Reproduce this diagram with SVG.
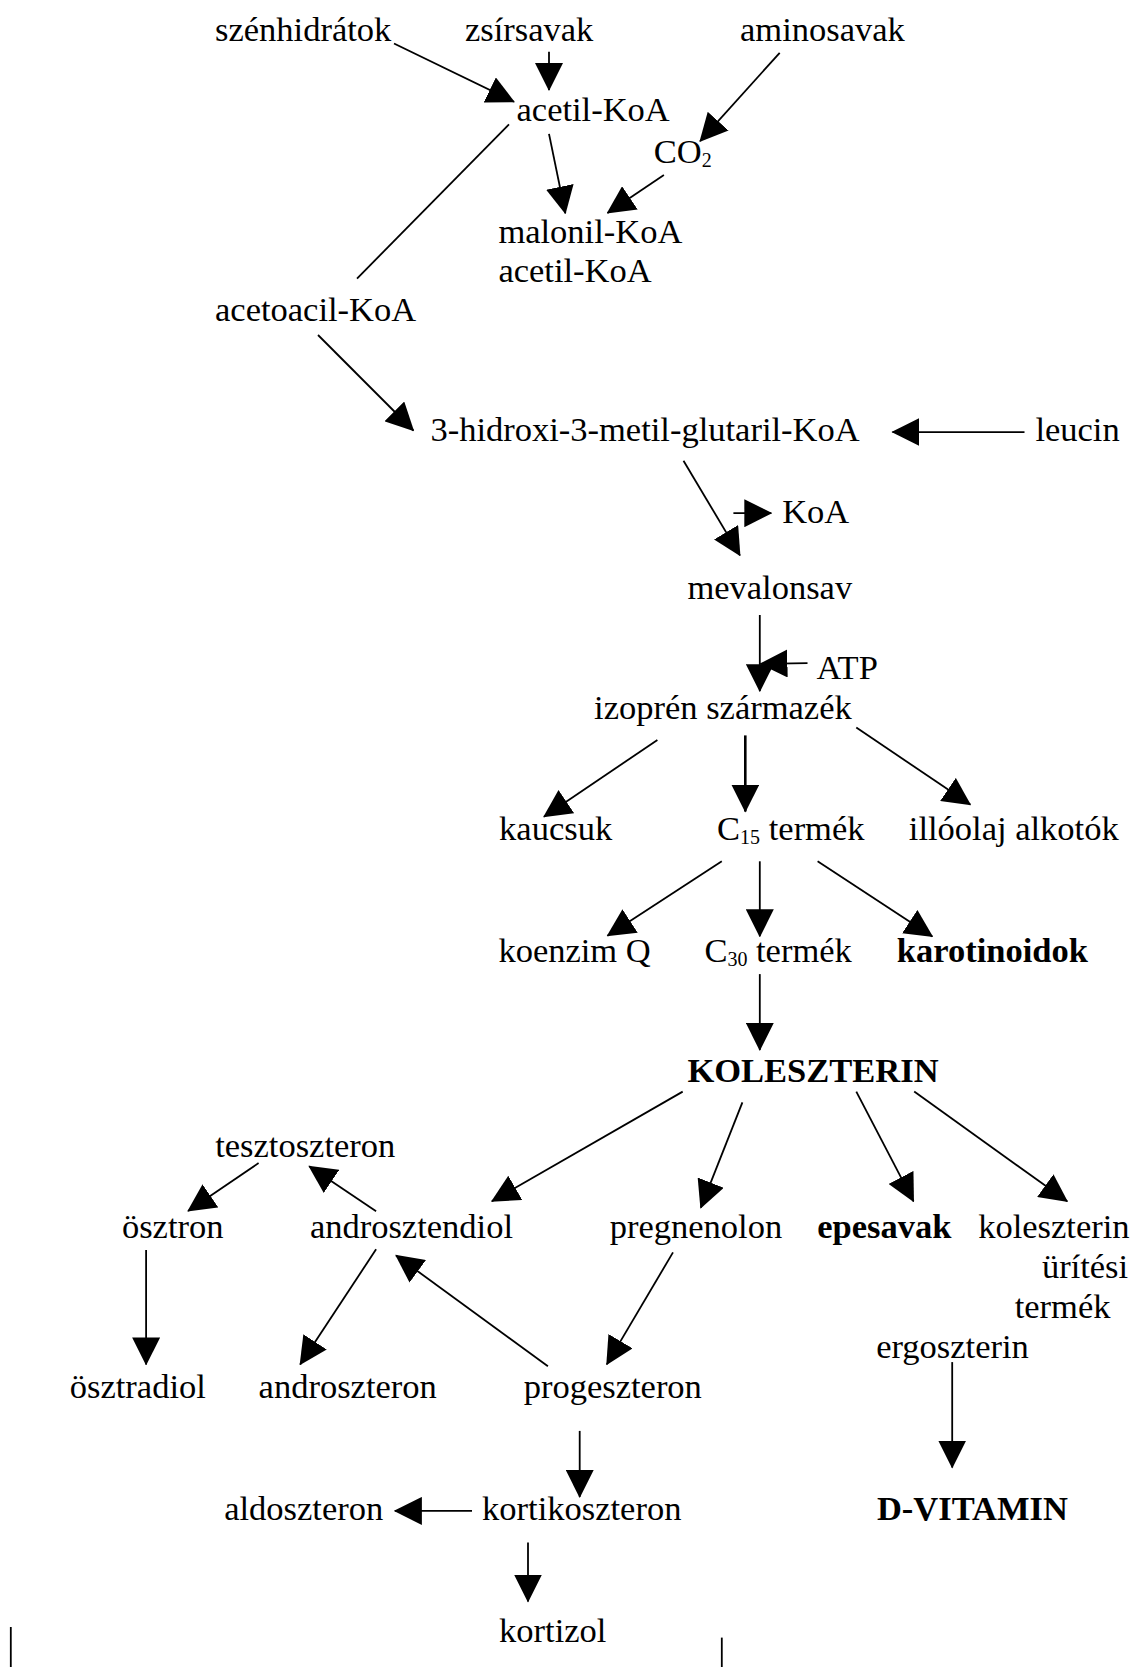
<svg xmlns="http://www.w3.org/2000/svg" width="1134" height="1667" viewBox="0 0 1134 1667">
<defs>
<style>
text{font-family:"Liberation Serif","Times New Roman",serif;font-size:34.5px;fill:#000}
.b{font-weight:bold}
.sub{font-size:20px}
.c line{stroke:#000;stroke-width:1.8}
.c line.a{marker-end:url(#ah)}
.c line.t{stroke-width:2.6}
</style>
<marker id="ah" markerUnits="userSpaceOnUse" markerWidth="28" markerHeight="28" viewBox="0 0 27 27" refX="26" refY="13.5" orient="auto">
<path d="M0,0 L27,13.5 L0,27 z" fill="#000"/>
</marker>
</defs>
<rect width="1134" height="1667" fill="#fff"/>
<g class="c" id="connectors">
<line class="a" x1="394" y1="43.5" x2="514" y2="101.8"/>
<line class="a" x1="549" y1="51.7" x2="549" y2="90"/>
<line class="a" x1="779.7" y1="52.8" x2="700.1" y2="141.2"/>
<line class="a" x1="549" y1="133.9" x2="565.3" y2="213.3"/>
<line class="a" x1="663.9" y1="175" x2="607.5" y2="212.9"/>
<line x1="509" y1="124.3" x2="357" y2="278.6"/>
<line class="a" x1="318" y1="335" x2="413.4" y2="430.5"/>
<line class="a" x1="1024.5" y1="432.1" x2="892.5" y2="432.1"/>
<line class="a" x1="683.5" y1="460.7" x2="739.9" y2="555.4"/>
<line class="a" x1="733.4" y1="513.2" x2="771.3" y2="513.2"/>
<line class="a" x1="759.8" y1="615" x2="759.8" y2="691.1"/>
<line class="a" x1="807.5" y1="663.1" x2="760.5" y2="663.8"/>
<line class="a" x1="657.4" y1="740" x2="544" y2="816.7"/>
<line class="a t" x1="745.3" y1="735.4" x2="745.3" y2="811.5"/>
<line class="a" x1="856.3" y1="727.5" x2="970.3" y2="804.6"/>
<line class="a" x1="721.8" y1="861.3" x2="607.5" y2="935.7"/>
<line class="a" x1="759.8" y1="861.3" x2="759.8" y2="936.3"/>
<line class="a" x1="817.6" y1="861.3" x2="932.3" y2="936.4"/>
<line class="a" x1="759.8" y1="974.1" x2="759.8" y2="1049.9"/>
<line class="a" x1="682.7" y1="1091.6" x2="491.9" y2="1201.3"/>
<line class="a" x1="742.4" y1="1102.4" x2="700.8" y2="1207.7"/>
<line class="a" x1="856.3" y1="1091.6" x2="913.5" y2="1201.3"/>
<line class="a" x1="914.2" y1="1091.6" x2="1067.2" y2="1201.3"/>
<line class="a" x1="258.6" y1="1163.1" x2="188.1" y2="1211"/>
<line class="a" x1="376.1" y1="1211.3" x2="309.2" y2="1166.3"/>
<line class="a" x1="146.1" y1="1250.1" x2="146.1" y2="1364.4"/>
<line class="a" x1="376.1" y1="1249.3" x2="300.2" y2="1364.4"/>
<line class="a" x1="547.9" y1="1366.2" x2="396" y2="1255.4"/>
<line class="a" x1="673" y1="1252.4" x2="606.8" y2="1364.4"/>
<line class="a" x1="952.2" y1="1362.1" x2="952.2" y2="1467.5"/>
<line class="a" x1="579.7" y1="1430.9" x2="579.7" y2="1496.9"/>
<line class="a" x1="472" y1="1510.9" x2="394.9" y2="1510.9"/>
<line class="a" x1="528" y1="1542.6" x2="528" y2="1601.5"/>
<line x1="10.8" y1="1627" x2="10.8" y2="1667"/>
<line x1="721.8" y1="1637.6" x2="721.8" y2="1667"/>
</g>
<g id="n-szenhidratok"><text x="215" y="41.1">szénhidrátok</text></g>
<g id="n-zsirsavak"><text x="465" y="41.1">zsírsavak</text></g>
<g id="n-aminosavak"><text x="740" y="41.1">aminosavak</text></g>
<g id="n-acetilkoa"><text x="516.5" y="120.5">acetil-KoA</text></g>
<g id="n-co2"><text x="653.8" y="162.5">CO<tspan class="sub" dy="4">2</tspan></text></g>
<g id="n-malonil"><text x="498.4" y="242.9">malonil-KoA</text><text x="498.4" y="282.1">acetil-KoA</text></g>
<g id="n-acetoacil"><text x="215" y="321.4">acetoacil-KoA</text></g>
<g id="n-hmg"><text x="430.4" y="441.1">3-hidroxi-3-metil-glutaril-KoA</text></g>
<g id="n-leucin"><text x="1035.4" y="441.1">leucin</text></g>
<g id="n-koa"><text x="782.2" y="523.2">KoA</text></g>
<g id="n-mevalonsav"><text x="687.4" y="598.9">mevalonsav</text></g>
<g id="n-atp"><text x="816.5" y="679.2">ATP</text></g>
<g id="n-izopren"><text x="594.1" y="718.6">izoprén származék</text></g>
<g id="n-kaucsuk"><text x="499.1" y="839.9">kaucsuk</text></g>
<g id="n-c15"><text x="717.1" y="839.9">C<tspan class="sub" dy="4">15</tspan><tspan dy="-4"> termék</tspan></text></g>
<g id="n-illoolaj"><text x="908.8" y="839.9">illóolaj alkotók</text></g>
<g id="n-koenzimq"><text x="498.4" y="961.7">koenzim Q</text></g>
<g id="n-c30"><text x="704.4" y="961.7">C<tspan class="sub" dy="4">30</tspan><tspan dy="-4"> termék</tspan></text></g>
<g id="n-karotinoidok"><text class="b" x="896.8" y="961.7">karotinoidok</text></g>
<g id="n-koleszterin"><text class="b" x="687.4" y="1082">KOLESZTERIN</text></g>
<g id="n-tesztoszteron"><text x="215.2" y="1156.6">tesztoszteron</text></g>
<g id="n-osztron"><text x="121.9" y="1237.7">ösztron</text></g>
<g id="n-androsztendiol"><text x="309.9" y="1237.7">androsztendiol</text></g>
<g id="n-pregnenolon"><text x="609.7" y="1237.7">pregnenolon</text></g>
<g id="n-epesavak"><text class="b" x="817.3" y="1237.7">epesavak</text></g>
<g id="n-uritesi"><text x="978.2" y="1237.7">koleszterin</text><text x="1041.9" y="1278.1">ürítési</text><text x="1014.7" y="1318.4">termék</text></g>
<g id="n-ergoszterin"><text x="876.2" y="1358.4">ergoszterin</text></g>
<g id="n-osztradiol"><text x="69.8" y="1397.7">ösztradiol</text></g>
<g id="n-androszteron"><text x="258.6" y="1397.7">androszteron</text></g>
<g id="n-progeszteron"><text x="523.7" y="1397.7">progeszteron</text></g>
<g id="n-aldoszteron"><text x="224.2" y="1519.7">aldoszteron</text></g>
<g id="n-kortikoszteron"><text x="482.1" y="1519.7">kortikoszteron</text></g>
<g id="n-dvitamin"><text class="b" x="876.9" y="1520">D-VITAMIN</text></g>
<g id="n-kortizol"><text x="499.1" y="1641.6">kortizol</text></g>
</svg>
